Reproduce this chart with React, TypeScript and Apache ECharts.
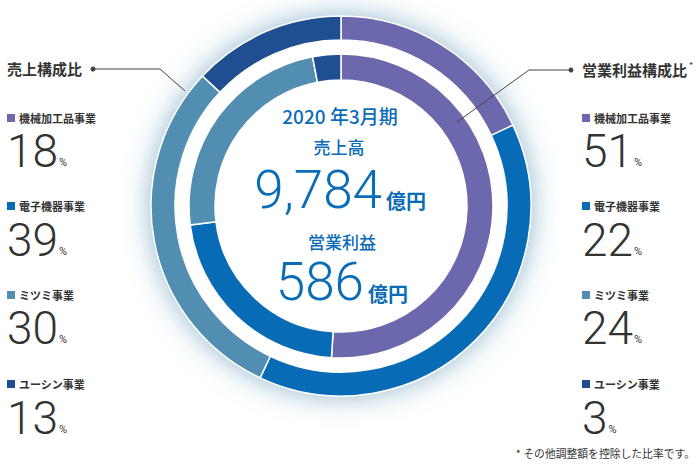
import React, { useEffect, useRef } from "react";
import * as echarts from "echarts";

const categories = ["機械加工品事業", "電子機器事業", "ミツミ事業", "ユーシン事業"];
const salesShare = [18, 39, 30, 13];
const profitShare = [51, 22, 24, 3];
const periodLabel = "2020 年3月期";
const salesTitle = "売上高";
const salesTotal = "9,784";
const profitTitle = "営業利益";
const profitTotal = "586";
const unitLabel = "億円";
const leftTitle = "売上構成比";
const rightTitle = "営業利益構成比";
const footnote = "* その他調整額を控除した比率です。";

const segColors = ["#6c68ad", "#086bb6", "#528db2", "#204f91"];
const BLUE = "#0a6cb7";
const DARK = "#333333";
const JP = '"Noto Sans CJK JP", "Noto Sans", sans-serif';
const NUM = 'Roboto, "Liberation Sans", sans-serif';

const CX = 341;
const CY = 206;

function legendBlock(x: number, values: number[]) {
  const els: any[] = [];
  const labelY = [118, 206, 295, 384];
  const numY = [151, 240, 328, 418];
  categories.forEach((c, i) => {
    els.push({
      type: "rect",
      z: 100,
      shape: { x: x, y: labelY[i] - 4, width: 8, height: 8 },
      style: { fill: segColors[i] },
    });
    els.push({
      type: "text",
      z: 100,
      x: x + 12,
      y: labelY[i],
      style: {
        text: c,
        fill: DARK,
        font: `bold 11px ${JP}`,
        align: "left",
        verticalAlign: "middle",
      },
    });
    els.push({
      type: "text",
      z: 100,
      x: x,
      y: numY[i],
      style: {
        text: `{n|${values[i]}}{p|%}`,
        align: "left",
        verticalAlign: "middle",
        rich: {
          n: { fontFamily: NUM, fontWeight: 300, fontSize: 46, lineHeight: 36, fill: DARK, color: DARK },
          p: { fontFamily: NUM, fontSize: 11, fill: DARK, color: DARK, padding: [22, 0, 0, 1] },
        },
      },
    });
  });
  return els;
}

export default function App() {
  const ref = useRef<HTMLDivElement>(null);
  useEffect(() => {
    if (!ref.current) return;
    const chart = echarts.init(ref.current, undefined, { renderer: "svg" });
    const option: any = {
      animation: false,
      backgroundColor: "#ffffff",
      series: [
        {
          type: "pie",
          silent: true,
          z: 1,
          center: [CX, CY],
          radius: [0, 190],
          label: { show: false },
          labelLine: { show: false },
          emphasis: { disabled: true },
          data: [
            {
              value: 1,
              itemStyle: {
                color: "#ffffff",
                shadowBlur: 28,
                shadowColor: "rgba(60,130,165,0.6)",
              },
            },
          ],
        },
        {
          type: "pie",
          silent: true,
          z: 2,
          center: [CX, CY],
          radius: [166, 190],
          startAngle: 90,
          clockwise: true,
          label: { show: false },
          labelLine: { show: false },
          emphasis: { disabled: true },
          itemStyle: { borderColor: "#ffffff", borderWidth: 1.5 },
          data: categories.map((c, i) => ({
            name: c,
            value: salesShare[i],
            itemStyle: { color: segColors[i] },
          })),
        },
        {
          type: "pie",
          silent: true,
          z: 2,
          center: [CX, CY],
          radius: [126, 152],
          startAngle: 90,
          clockwise: true,
          label: { show: false },
          labelLine: { show: false },
          emphasis: { disabled: true },
          itemStyle: { borderColor: "#ffffff", borderWidth: 1.5 },
          data: categories.map((c, i) => ({
            name: c,
            value: profitShare[i],
            itemStyle: { color: segColors[i] },
          })),
        },
      ],
      graphic: {
        elements: [
          {
            type: "text", z: 100, x: 340, y: 115,
            style: { text: periodLabel, fill: BLUE, font: `500 19px ${JP}`, align: "center", verticalAlign: "middle" },
          },
          {
            type: "text", z: 100, x: 339, y: 146,
            style: { text: salesTitle, fill: BLUE, font: `500 17px ${JP}`, align: "center", verticalAlign: "middle" },
          },
          {
            type: "text", z: 100, x: 382, y: 190,
            style: { text: salesTotal, fill: BLUE, font: `300 53px ${NUM}`, align: "right", verticalAlign: "middle" },
          },
          {
            type: "text", z: 100, x: 386, y: 200,
            style: { text: unitLabel, fill: BLUE, font: `bold 20px ${JP}`, align: "left", verticalAlign: "middle" },
          },
          {
            type: "text", z: 100, x: 342, y: 241,
            style: { text: profitTitle, fill: BLUE, font: `500 17px ${JP}`, align: "center", verticalAlign: "middle" },
          },
          {
            type: "text", z: 100, x: 364, y: 282,
            style: { text: profitTotal, fill: BLUE, font: `300 53px ${NUM}`, align: "right", verticalAlign: "middle" },
          },
          {
            type: "text", z: 100, x: 368, y: 293,
            style: { text: unitLabel, fill: BLUE, font: `bold 20px ${JP}`, align: "left", verticalAlign: "middle" },
          },
          {
            type: "text", z: 100, x: 7, y: 68,
            style: { text: leftTitle, fill: DARK, font: `bold 15px ${JP}`, align: "left", verticalAlign: "middle" },
          },
          {
            type: "polyline", z: 100,
            shape: { points: [[93, 69], [160, 69], [185, 91]] },
            style: { stroke: "#444", lineWidth: 1, fill: null },
          },
          { type: "circle", z: 100, shape: { cx: 93, cy: 69, r: 2.5 }, style: { fill: "#444" } },
          {
            type: "text", z: 100, x: 582, y: 69,
            style: {
              text: `{t|${rightTitle}}{s| *}`,
              align: "left",
              verticalAlign: "middle",
              rich: {
                t: { fontFamily: JP, fontWeight: "bold", fontSize: 15, fill: DARK, color: DARK },
                s: { fontFamily: JP, fontSize: 9, fill: DARK, color: DARK, padding: [0, 0, 8, 0] },
              },
            },
          },
          {
            type: "polyline", z: 100,
            shape: { points: [[571, 70], [529, 70], [457, 122]] },
            style: { stroke: "#444", lineWidth: 1, fill: null },
          },
          { type: "circle", z: 100, shape: { cx: 571, cy: 70, r: 2.5 }, style: { fill: "#444" } },
          ...legendBlock(7, salesShare),
          ...legendBlock(582, profitShare),
          {
            type: "text", z: 100, x: 695, y: 453,
            style: { text: footnote, fill: DARK, font: `10.8px ${JP}`, align: "right", verticalAlign: "middle" },
          },
        ],
      },
    };
    chart.setOption(option);
    return () => chart.dispose();
  }, []);
  return (
    <div
      ref={ref}
      style={{ position: "fixed", left: 0, top: 0, width: 700, height: 470, background: "#fff" }}
    />
  );
}
